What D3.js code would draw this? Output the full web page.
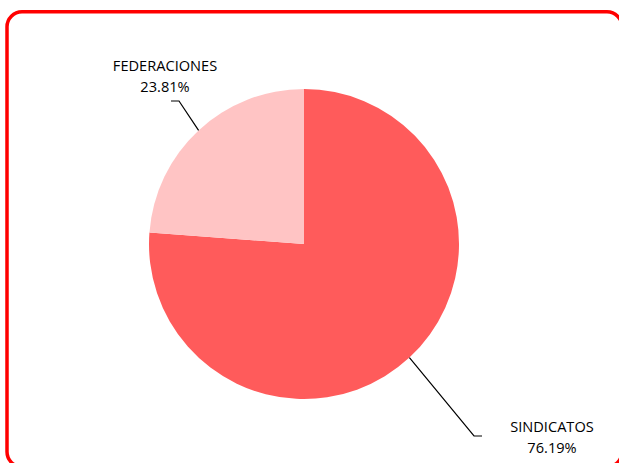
<!DOCTYPE html>
<html>
<head>
<meta charset="utf-8">
<script src="https://cdn.jsdelivr.net/npm/d3@7"></script>
<style>
  html, body { margin: 0; padding: 0; background: #fff; }
  svg { display: block; font-family: "Open Sans", sans-serif; }
</style>
</head>
<body>
<div id="chart"></div>
<script>
// Data
const categories = ['SINDICATOS', 'FEDERACIONES'];
const values = [76.19, 23.81];
const colors = ['#FF5B5B', '#FFC4C4'];

const width = 619;
const height = 463;
const cx = 304;
const cy = 244;
const radius = 155;

const svg = d3.select('#chart')
  .append('svg')
  .attr('width', width)
  .attr('height', height);

// Chart frame
svg.append('rect')
  .attr('x', 7)
  .attr('y', 11.8)
  .attr('width', 615)
  .attr('height', 455)
  .attr('rx', 15)
  .attr('fill', '#fff')
  .attr('stroke', '#FF0000')
  .attr('stroke-width', 3.5);

const pie = d3.pie().sort(null).value(d => d);
const arcs = pie(values);
const arc = d3.arc().innerRadius(0).outerRadius(radius);

const g = svg.append('g')
  .attr('transform', `translate(${cx},${cy})`);

g.selectAll('path')
  .data(arcs)
  .join('path')
  .attr('d', arc)
  .attr('fill', (d, i) => colors[i]);

// Labels with leader lines (label positions relative to centre)
const labelPos = [
  { x: 248, y: 188, anchor: 'middle', elbow: [170, 192], end: [178, 192] },
  { x: -139, y: -173.5, anchor: 'middle', elbow: [-125, -143], end: [-133, -143] }
];

arcs.forEach((d, i) => {
  const mid = (d.startAngle + d.endAngle) / 2;
  const p0 = [Math.sin(mid) * radius, -Math.cos(mid) * radius];
  const lp = labelPos[i];
  g.append('polyline')
    .attr('points', [p0, lp.elbow, lp.end].map(p => p.join(',')).join(' '))
    .attr('fill', 'none')
    .attr('stroke', '#000')
    .attr('stroke-width', 1.2);

  const t = g.append('text')
    .attr('text-anchor', lp.anchor)
    .style('font-size', '14.6px')
    .style('fill', '#000');
  t.append('tspan')
    .attr('x', lp.x)
    .attr('y', lp.y)
    .text(categories[i]);
  t.append('tspan')
    .attr('x', lp.x)
    .attr('y', lp.y + 21)
    .text(`${values[i].toFixed(2)}%`);
});
</script>
</body>
</html>
